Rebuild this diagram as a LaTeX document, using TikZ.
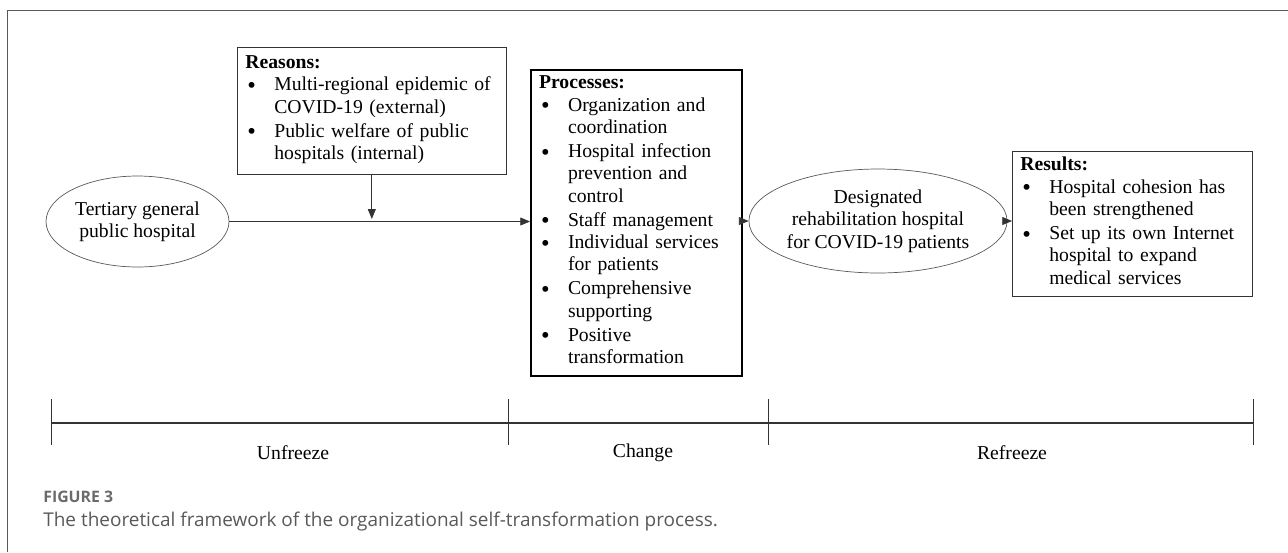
\documentclass[tikz,border=0pt]{standalone}
\usepackage[T1]{fontenc}
\usepackage{fontspec}
\usepackage{tikz}
\usetikzlibrary{arrows.meta}
\usetikzlibrary{shapes.geometric}

\newfontfamily\capfont{Open Sans}
% Palatino-like text face, whichever is at hand
\IfFileExists{ec-qplr.tfm}{\newcommand\pal{\fontencoding{T1}\fontfamily{qpl}\selectfont}}
  {\IfFileExists{pplr8t.tfm}{\newcommand\pal{\fontencoding{T1}\fontfamily{ppl}\selectfont}}
    {\newfontfamily\pal{Liberation Serif}}}
% bullet, then the item's lines as a one-column block
\newcommand\litem[1]{\par\noindent
  \makebox[16.5pt][l]{\hspace{1.2pt}\raisebox{-0.3ex}{\fontsize{14}{12.7}\selectfont\textbullet}}%
  \begin{tabular}[t]{@{}l@{}}#1\end{tabular}}
\definecolor{capgray}{HTML}{595959}

\begin{document}
\begin{tikzpicture}[x=0.02cm,y=-0.02cm,
  every node/.style={font=\pal\fontsize{11.2}{12.7}\selectfont},
  box/.style={draw=black!80,rectangle,anchor=north west,inner xsep=0.16cm,align=left},
  oval/.style={draw=black!65,ellipse,inner sep=0pt,align=center},
  arr/.style={draw=black!80,-{Triangle[length=5.5pt,width=4.5pt]}}]
\useasboundingbox (0,0) rectangle (1288,552);
\draw[black!65] (7,552) -- (7,10) -- (1288,10);

\node (tert) [oval,minimum width=3.66cm,minimum height=1.82cm] at (137.5,221.5)
  {Tertiary general\\public hospital};
\node (reas) [box,text width=5.06cm,minimum height=2.54cm] at (237,47)
  {\textbf{Reasons:}
   \litem{Multi-regional epidemic of\\COVID-19 (external)}
   \litem{Public welfare of public\\hospitals (internal)}\par};
\node (proc) [box,draw=black,line width=1.2pt,text width=3.9cm,minimum height=6.1cm] at (530,69)
  {\textbf{Processes:}
   \litem{Organization and\\coordination}
   \litem{Hospital infection\\prevention and\\control}
   \litem{Staff management}
   \litem{Individual services\\for patients}
   \litem{Comprehensive\\supporting}
   \litem{Positive\\transformation}\par};
\node (desig) [oval,minimum width=4.52cm,minimum height=2.08cm] at (878,221)
  {Designated\\rehabilitation hospital\\for COVID-19 patients};
\node (res) [box,text width=4.48cm,minimum height=2.82cm] at (1012,151)
  {\textbf{Results:}
   \litem{Hospital cohesion has\\been strengthened}
   \litem{Set up its own Internet\\hospital to expand\\medical services}\par};

\coordinate (meet) at (reas.south |- tert.east);
\draw[arr] (tert.east) -- (tert.east -| proc.west);
\draw[arr] (reas.south) -- ([yshift=1.5pt]meet);
\draw[arr] (proc.east |- desig.west) -- (desig.west);
\draw[arr] (desig.east) -- (desig.east -| res.west);

% timeline
\coordinate (t0) at (51,423);
\coordinate (t1) at (508,423);
\coordinate (t2) at (768,423);
\coordinate (t3) at (1253,423);
\draw[black!80,line width=1pt] (t0) -- (t3);
\foreach \t in {t0,t1,t2,t3}
  \draw[black!80] ([yshift=0.48cm]\t) -- ([yshift=-0.44cm]\t);
\node (unf) at (293,453) {Unfreeze};
\node (chg) at (643,453) {Change};
\node (ref) at (1012,453) {Refreeze};

% caption
\node (fig) [anchor=west,inner sep=0pt,font=\capfont\bfseries\fontsize{9}{11}\selectfont,text=capgray!90] at (43,497) {FIGURE 3};
\node (cap) [anchor=west,inner sep=0pt,font=\capfont\fontsize{10.8}{13}\selectfont,text=capgray] at (43,522)
  {The theoretical framework of the organizational self-transformation process.};
\end{tikzpicture}
\end{document}
